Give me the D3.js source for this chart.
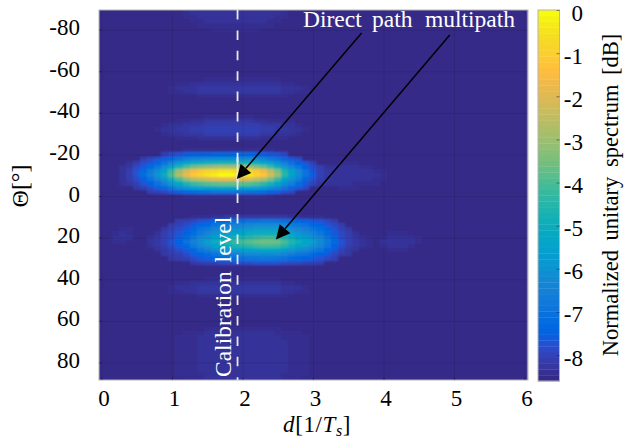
<!DOCTYPE html>
<html>
<head>
<meta charset="utf-8">
<script src="https://cdn.jsdelivr.net/npm/d3@7"></script>
<style>
  body { margin: 0; background: #fff; }
  text { font-family: "Liberation Serif", serif; fill: #000; }
</style>
</head>
<body>
<svg width="625" height="439"></svg>
<script>
// axis ticks
const dTicks = [0, 1, 2, 3, 4, 5, 6];
const thetaTicks = [-80, -60, -40, -20, 0, 20, 40, 60, 80];
const dbTicks = [0, -1, -2, -3, -4, -5, -6, -7, -8];

// cell axes, d step 0.1 and theta step 2 deg
const dCells = d3.range(61).map(i => i / 10);
const thetaCells = d3.range(91).map(i => -90 + 2 * i);
const floorDb = -8.5;

// main lobe (direct path), first column is d=0.3
const mainThetas = [-22, -20, -18, -16, -14, -12, -10, -8, -6, -4, -2, 0];
const mainLobe = [
  [-8.5,-8.5,-8.5,-8.5,-8.5,-8.5,-8.5,-8.5,-8.5,-8.4,-8.4,-8.4,-8.4,-8.4,-8.4,-8.4,-8.4,-8.4,-8.4,-8.4,-8.4,-8.4,-8.5,-8.5,-8.5,-8.5,-8.5,-8.5,-8.5,-8.5,-8.5],
  [-8.5,-8.5,-8.5,-8.5,-8.5,-8.5,-8.0,-7.8,-7.7,-7.5,-7.4,-7.4,-7.4,-7.3,-7.3,-7.3,-7.3,-7.3,-7.3,-7.4,-7.5,-7.6,-7.7,-7.9,-8.5,-8.5,-8.5,-8.5,-8.5,-8.5,-8.5],
  [-8.5,-8.5,-8.5,-8.1,-7.9,-7.7,-7.5,-7.2,-6.9,-6.6,-6.4,-6.3,-6.2,-6.1,-6.1,-6.1,-6.1,-6.2,-6.2,-6.3,-6.4,-6.7,-7.0,-7.3,-7.6,-7.8,-8.5,-8.5,-8.5,-8.5,-8.5],
  [-8.5,-8.3,-8.1,-7.8,-7.6,-7.3,-6.9,-6.4,-5.8,-5.4,-5.1,-4.9,-4.8,-4.7,-4.6,-4.6,-4.6,-4.7,-4.7,-4.9,-5.2,-5.6,-6.0,-6.6,-7.0,-7.4,-7.7,-8.0,-8.5,-8.5,-8.5],
  [-8.3,-8.2,-7.9,-7.6,-7.2,-6.8,-6.2,-5.4,-4.6,-3.9,-3.5,-3.3,-3.1,-2.9,-2.8,-2.8,-2.8,-2.9,-3.0,-3.3,-3.6,-4.2,-4.9,-5.7,-6.4,-6.9,-7.4,-7.8,-8.1,-8.3,-8.3],
  [-8.3,-8.1,-7.7,-7.2,-6.7,-6.1,-5.3,-4.2,-3.0,-2.1,-1.5,-1.2,-0.9,-0.7,-0.5,-0.5,-0.6,-0.7,-0.8,-1.2,-1.6,-2.5,-3.4,-4.6,-5.5,-6.2,-7.0,-7.6,-8.0,-8.2,-8.3],
  [-8.3,-8.1,-7.7,-7.1,-6.6,-5.9,-5.1,-3.9,-2.7,-1.7,-1.1,-0.7,-0.4,-0.2,0,0,-0.1,-0.2,-0.3,-0.7,-1.2,-2.1,-3.1,-4.4,-5.3,-6.1,-6.9,-7.5,-8.0,-8.2,-8.3],
  [-8.3,-8.1,-7.8,-7.4,-7.0,-6.4,-5.8,-4.8,-3.9,-3.1,-2.6,-2.3,-2.0,-1.8,-1.7,-1.7,-1.7,-1.9,-1.9,-2.3,-2.7,-3.4,-4.2,-5.2,-5.9,-6.6,-7.2,-7.7,-8.1,-8.2,-8.3],
  [-8.3,-8.2,-8.0,-7.7,-7.4,-7.0,-6.5,-5.8,-5.2,-4.6,-4.2,-4.0,-3.8,-3.7,-3.6,-3.6,-3.6,-3.7,-3.8,-4.0,-4.3,-4.8,-5.4,-6.1,-6.6,-7.1,-7.6,-7.9,-8.2,-8.3,-8.3],
  [-8.5,-8.5,-8.2,-8.0,-7.8,-7.5,-7.2,-6.8,-6.3,-5.9,-5.7,-5.6,-5.5,-5.4,-5.3,-5.3,-5.3,-5.4,-5.4,-5.6,-5.8,-6.1,-6.5,-6.9,-7.3,-7.6,-7.9,-8.5,-8.5,-8.5,-8.5],
  [-8.5,-8.5,-8.5,-8.5,-8.1,-8.0,-7.9,-7.7,-7.5,-7.3,-7.2,-7.1,-7.1,-7.0,-7.0,-7.0,-7.0,-7.0,-7.1,-7.1,-7.2,-7.4,-7.5,-7.8,-7.9,-8.5,-8.5,-8.5,-8.5,-8.5,-8.5],
  [-8.5,-8.5,-8.5,-8.5,-8.5,-8.5,-8.5,-8.5,-8.5,-8.3,-8.3,-8.3,-8.3,-8.3,-8.3,-8.3,-8.3,-8.3,-8.3,-8.3,-8.3,-8.4,-8.5,-8.5,-8.5,-8.5,-8.5,-8.5,-8.5,-8.5,-8.5]
];

// pale shoulder right of the main lobe, first column d=3.4
const shoulderThetas = [-16, -14, -12, -10, -8, -6, -4];
const shoulder = [
  [-8.4,-8.4,-8.4,-8.5,-8.5,-8.5,-8.5],
  [-8.3,-8.3,-8.3,-8.4,-8.4,-8.5,-8.5],
  [-8.3,-8.3,-8.3,-8.3,-8.3,-8.4,-8.4],
  [-8.3,-8.3,-8.3,-8.3,-8.3,-8.3,-8.4],
  [-8.3,-8.3,-8.3,-8.3,-8.3,-8.4,-8.4],
  [-8.3,-8.3,-8.4,-8.4,-8.4,-8.4,-8.5],
  [-8.4,-8.4,-8.4,-8.5,-8.5,-8.5,-8.5]
];

// multipath lobe, first column d=0.7
const multiThetas = [10, 12, 14, 16, 18, 20, 22, 24, 26, 28, 30, 32];
const multiLobe = [
  [-8.5,-8.5,-8.5,-8.5,-8.5,-8.5,-8.4,-8.4,-8.4,-8.3,-8.3,-8.2,-8.2,-8.2,-8.2,-8.2,-8.2,-8.2,-8.2,-8.2,-8.3,-8.3,-8.4,-8.4,-8.4,-8.5,-8.5,-8.5,-8.5,-8.5,-8.5,-8.5],
  [-8.5,-8.5,-8.5,-8.5,-8.1,-8.0,-7.9,-7.7,-7.6,-7.4,-7.3,-7.2,-7.1,-7.1,-7.0,-7.0,-6.9,-6.9,-7.0,-7.1,-7.2,-7.4,-7.4,-7.6,-7.7,-7.9,-8.1,-8.5,-8.5,-8.5,-8.5,-8.5],
  [-8.5,-8.5,-8.5,-8.1,-8.0,-7.8,-7.6,-7.3,-7.2,-6.9,-6.8,-6.7,-6.5,-6.4,-6.3,-6.2,-6.2,-6.2,-6.2,-6.4,-6.7,-6.8,-7.0,-7.2,-7.4,-7.7,-7.9,-8.1,-8.5,-8.5,-8.5,-8.5],
  [-8.5,-8.5,-8.2,-8.0,-7.8,-7.6,-7.3,-7.0,-6.8,-6.5,-6.3,-6.2,-6.0,-5.9,-5.8,-5.6,-5.6,-5.6,-5.6,-5.9,-6.2,-6.4,-6.6,-6.8,-7.1,-7.4,-7.7,-8.0,-8.2,-8.5,-8.5,-8.5],
  [-8.5,-8.3,-8.1,-7.9,-7.7,-7.4,-7.1,-6.7,-6.4,-6.0,-5.8,-5.6,-5.4,-5.3,-5.1,-5.0,-4.9,-4.9,-5.0,-5.3,-5.6,-5.9,-6.1,-6.4,-6.8,-7.2,-7.6,-7.9,-8.1,-8.3,-8.5,-8.5],
  [-8.3,-8.2,-8.0,-7.8,-7.5,-7.1,-6.7,-6.2,-5.9,-5.4,-5.2,-4.9,-4.6,-4.5,-4.3,-4.1,-4.0,-4.0,-4.1,-4.5,-4.9,-5.3,-5.5,-5.9,-6.3,-6.9,-7.3,-7.8,-8.0,-8.2,-8.3,-8.4],
  [-8.3,-8.2,-8.0,-7.7,-7.4,-7.0,-6.5,-6.0,-5.6,-5.1,-4.8,-4.5,-4.2,-4.0,-3.8,-3.6,-3.5,-3.5,-3.6,-4.0,-4.5,-4.9,-5.2,-5.6,-6.1,-6.7,-7.2,-7.7,-8.0,-8.2,-8.3,-8.4],
  [-8.3,-8.2,-8.1,-7.8,-7.5,-7.2,-6.7,-6.3,-5.9,-5.5,-5.2,-5.0,-4.7,-4.5,-4.4,-4.2,-4.1,-4.1,-4.2,-4.5,-5.0,-5.3,-5.6,-5.9,-6.4,-6.9,-7.4,-7.8,-8.1,-8.2,-8.3,-8.4],
  [-8.5,-8.3,-8.2,-8.0,-7.8,-7.5,-7.2,-6.8,-6.6,-6.2,-6.0,-5.8,-5.6,-5.5,-5.4,-5.3,-5.2,-5.2,-5.3,-5.5,-5.8,-6.1,-6.3,-6.6,-6.9,-7.3,-7.6,-8.0,-8.2,-8.3,-8.5,-8.5],
  [-8.5,-8.5,-8.2,-8.1,-8.0,-7.8,-7.5,-7.3,-7.1,-6.9,-6.7,-6.6,-6.5,-6.4,-6.3,-6.2,-6.1,-6.1,-6.2,-6.4,-6.6,-6.8,-6.9,-7.1,-7.4,-7.6,-7.9,-8.1,-8.2,-8.5,-8.5,-8.5],
  [-8.5,-8.5,-8.5,-8.2,-8.1,-8.0,-7.8,-7.6,-7.5,-7.3,-7.3,-7.2,-7.1,-7.0,-6.9,-6.9,-6.8,-6.8,-6.9,-7.0,-7.2,-7.3,-7.4,-7.5,-7.7,-7.9,-8.0,-8.5,-8.5,-8.5,-8.5,-8.5],
  [-8.5,-8.5,-8.5,-8.5,-8.5,-8.5,-8.2,-8.1,-8.0,-8.0,-7.9,-7.9,-7.8,-7.8,-7.8,-7.7,-7.7,-7.7,-7.7,-7.8,-7.9,-7.9,-8.0,-8.0,-8.1,-8.5,-8.5,-8.5,-8.5,-8.5,-8.5,-8.5]
];

// side lobe above the main one, first column d=0.8
const sideAThetas = [-38, -36, -34, -32, -30, -28];
const sideA = [
  [-8.5,-8.5,-8.5,-8.5,-8.5,-8.5,-8.5,-8.4,-8.4,-8.4,-8.4,-8.4,-8.4,-8.4,-8.5,-8.5,-8.5,-8.5,-8.5,-8.5,-8.5,-8.5],
  [-8.5,-8.5,-8.5,-8.4,-8.4,-8.3,-8.3,-8.2,-8.2,-8.2,-8.2,-8.2,-8.2,-8.2,-8.3,-8.3,-8.4,-8.4,-8.4,-8.4,-8.5,-8.5],
  [-8.5,-8.4,-8.3,-8.3,-8.2,-8.2,-8.2,-8.1,-8.1,-8.1,-8.1,-8.1,-8.1,-8.1,-8.1,-8.2,-8.2,-8.2,-8.3,-8.3,-8.4,-8.5],
  [-8.4,-8.3,-8.3,-8.2,-8.2,-8.1,-8.1,-8.0,-8.0,-8.0,-8.0,-8.0,-8.0,-8.0,-8.0,-8.1,-8.1,-8.2,-8.2,-8.3,-8.3,-8.4],
  [-8.5,-8.4,-8.3,-8.3,-8.2,-8.2,-8.2,-8.1,-8.1,-8.1,-8.1,-8.1,-8.1,-8.1,-8.1,-8.2,-8.2,-8.3,-8.3,-8.3,-8.4,-8.5],
  [-8.5,-8.5,-8.5,-8.4,-8.4,-8.4,-8.3,-8.3,-8.3,-8.3,-8.3,-8.3,-8.3,-8.3,-8.3,-8.4,-8.4,-8.4,-8.4,-8.5,-8.5,-8.5]
];

// side lobe near -50 deg, first column d=1.0
const sideBThetas = [-56, -54, -52, -50, -48];
const sideB = [
  [-8.5,-8.5,-8.5,-8.5,-8.5,-8.4,-8.4,-8.4,-8.4,-8.4,-8.4,-8.4,-8.4,-8.4,-8.4,-8.4,-8.5,-8.5,-8.5,-8.5],
  [-8.5,-8.4,-8.4,-8.3,-8.3,-8.3,-8.3,-8.3,-8.3,-8.3,-8.3,-8.3,-8.3,-8.3,-8.3,-8.3,-8.4,-8.4,-8.5,-8.5],
  [-8.4,-8.3,-8.3,-8.3,-8.2,-8.2,-8.2,-8.2,-8.2,-8.2,-8.2,-8.2,-8.2,-8.2,-8.2,-8.2,-8.3,-8.3,-8.3,-8.4],
  [-8.4,-8.4,-8.3,-8.3,-8.2,-8.2,-8.2,-8.2,-8.2,-8.2,-8.2,-8.2,-8.2,-8.2,-8.2,-8.2,-8.3,-8.3,-8.4,-8.4],
  [-8.5,-8.5,-8.5,-8.5,-8.4,-8.4,-8.4,-8.4,-8.4,-8.4,-8.4,-8.4,-8.4,-8.4,-8.4,-8.4,-8.4,-8.5,-8.5,-8.5]
];

// top lobe, first column d=1.2
const topThetas = [-90, -88, -86, -84, -82, -80];
const topLobe = [
  [-8.3,-8.3,-8.3,-8.3,-8.3,-8.3,-8.3,-8.3,-8.3,-8.3,-8.3,-8.3,-8.3,-8.3,-8.3],
  [-8.4,-8.3,-8.3,-8.3,-8.3,-8.3,-8.3,-8.3,-8.3,-8.3,-8.3,-8.3,-8.3,-8.3,-8.4],
  [-8.4,-8.4,-8.3,-8.3,-8.3,-8.3,-8.3,-8.3,-8.3,-8.3,-8.3,-8.3,-8.3,-8.4,-8.4],
  [-8.5,-8.4,-8.4,-8.3,-8.3,-8.3,-8.3,-8.3,-8.3,-8.3,-8.3,-8.3,-8.4,-8.4,-8.5],
  [-8.5,-8.5,-8.4,-8.4,-8.4,-8.4,-8.4,-8.4,-8.4,-8.4,-8.4,-8.4,-8.4,-8.5,-8.5],
  [-8.5,-8.5,-8.5,-8.5,-8.4,-8.4,-8.4,-8.4,-8.4,-8.4,-8.4,-8.5,-8.5,-8.5,-8.5]
];

// side lobe below the multipath one, first column d=1.0
const sideCThetas = [40, 42, 44, 46, 48];
const sideC = [
  [-8.5,-8.5,-8.5,-8.5,-8.5,-8.4,-8.4,-8.4,-8.4,-8.4,-8.4,-8.4,-8.4,-8.4,-8.4,-8.4,-8.5,-8.5,-8.5,-8.5],
  [-8.5,-8.4,-8.4,-8.3,-8.3,-8.3,-8.3,-8.3,-8.3,-8.3,-8.3,-8.3,-8.3,-8.3,-8.3,-8.3,-8.4,-8.4,-8.5,-8.5],
  [-8.4,-8.3,-8.3,-8.3,-8.2,-8.2,-8.2,-8.2,-8.2,-8.2,-8.2,-8.2,-8.2,-8.2,-8.2,-8.2,-8.3,-8.3,-8.3,-8.4],
  [-8.4,-8.4,-8.3,-8.3,-8.2,-8.2,-8.2,-8.2,-8.2,-8.2,-8.2,-8.2,-8.2,-8.2,-8.2,-8.2,-8.3,-8.3,-8.4,-8.4],
  [-8.5,-8.5,-8.5,-8.5,-8.4,-8.4,-8.4,-8.4,-8.4,-8.4,-8.4,-8.4,-8.4,-8.4,-8.4,-8.4,-8.4,-8.5,-8.5,-8.5]
];

// bottom lobe, first column d=1.1
const bottomThetas = [64, 66, 68, 70, 72, 74, 76, 78, 80, 82, 84, 86, 88, 90];
const bottomLobe = [
  [-8.5,-8.5,-8.5,-8.5,-8.4,-8.4,-8.4,-8.4,-8.4,-8.4,-8.4,-8.4,-8.4,-8.4,-8.4,-8.5,-8.5,-8.5,-8.5],
  [-8.5,-8.4,-8.4,-8.4,-8.3,-8.3,-8.3,-8.3,-8.3,-8.3,-8.3,-8.3,-8.3,-8.3,-8.4,-8.4,-8.4,-8.4,-8.5],
  [-8.4,-8.4,-8.4,-8.3,-8.3,-8.3,-8.3,-8.3,-8.3,-8.3,-8.3,-8.3,-8.3,-8.3,-8.3,-8.4,-8.4,-8.4,-8.4],
  [-8.4,-8.4,-8.4,-8.3,-8.3,-8.3,-8.3,-8.3,-8.3,-8.3,-8.3,-8.3,-8.3,-8.3,-8.3,-8.3,-8.4,-8.4,-8.4],
  [-8.4,-8.4,-8.4,-8.3,-8.3,-8.3,-8.3,-8.3,-8.3,-8.3,-8.3,-8.3,-8.3,-8.3,-8.3,-8.3,-8.4,-8.4,-8.4],
  [-8.4,-8.4,-8.4,-8.3,-8.3,-8.3,-8.3,-8.3,-8.3,-8.3,-8.3,-8.3,-8.3,-8.3,-8.3,-8.3,-8.4,-8.4,-8.4],
  [-8.4,-8.4,-8.4,-8.3,-8.3,-8.3,-8.3,-8.3,-8.3,-8.3,-8.3,-8.3,-8.3,-8.3,-8.3,-8.3,-8.4,-8.4,-8.4],
  [-8.4,-8.4,-8.4,-8.3,-8.3,-8.3,-8.3,-8.3,-8.3,-8.3,-8.3,-8.3,-8.3,-8.3,-8.3,-8.3,-8.4,-8.4,-8.4],
  [-8.4,-8.4,-8.4,-8.3,-8.3,-8.3,-8.3,-8.3,-8.3,-8.3,-8.3,-8.3,-8.3,-8.3,-8.3,-8.3,-8.4,-8.4,-8.4],
  [-8.4,-8.4,-8.4,-8.3,-8.3,-8.3,-8.3,-8.3,-8.3,-8.3,-8.3,-8.3,-8.3,-8.3,-8.3,-8.3,-8.4,-8.4,-8.4],
  [-8.4,-8.4,-8.4,-8.3,-8.3,-8.3,-8.3,-8.3,-8.3,-8.3,-8.3,-8.3,-8.3,-8.3,-8.3,-8.3,-8.4,-8.4,-8.4],
  [-8.4,-8.4,-8.4,-8.4,-8.3,-8.3,-8.3,-8.3,-8.3,-8.3,-8.3,-8.3,-8.3,-8.3,-8.3,-8.4,-8.4,-8.4,-8.4],
  [-8.5,-8.4,-8.4,-8.4,-8.3,-8.3,-8.3,-8.3,-8.3,-8.3,-8.3,-8.3,-8.3,-8.3,-8.3,-8.4,-8.4,-8.4,-8.5],
  [-8.5,-8.4,-8.4,-8.4,-8.3,-8.3,-8.3,-8.3,-8.3,-8.3,-8.3,-8.3,-8.3,-8.3,-8.3,-8.4,-8.4,-8.4,-8.5]
];

// two small blobs left and right of the multipath lobe
const leftBlobThetas = [16, 18, 20, 22];
const leftBlob = [
  [-8.5,-8.4,-8.4],
  [-8.4,-8.3,-8.4],
  [-8.3,-8.3,-8.3],
  [-8.4,-8.4,-8.5]
];
const rightBlobThetas = [18, 20, 22, 24, 26];
const rightBlob = [
  [-8.5,-8.4,-8.4,-8.4,-8.5,-8.5],
  [-8.4,-8.3,-8.3,-8.3,-8.3,-8.4],
  [-8.3,-8.3,-8.3,-8.3,-8.3,-8.4],
  [-8.4,-8.3,-8.3,-8.3,-8.4,-8.5],
  [-8.5,-8.4,-8.4,-8.4,-8.5,-8.5]
];

// parula, 64 steps
const parula = [
  [.2081,.1663,.5292],[.2116,.1898,.5777],[.2123,.2138,.6270],[.2081,.2386,.6771],
  [.1959,.2645,.7279],[.1707,.2919,.7792],[.1253,.3242,.8303],[.0591,.3598,.8683],
  [.0117,.3875,.8820],[.0060,.4086,.8828],[.0165,.4266,.8786],[.0329,.4430,.8720],
  [.0498,.4586,.8641],[.0629,.4737,.8554],[.0723,.4887,.8467],[.0779,.5040,.8384],
  [.0793,.5200,.8312],[.0749,.5375,.8263],[.0641,.5570,.8240],[.0488,.5772,.8228],
  [.0343,.5966,.8199],[.0265,.6137,.8135],[.0239,.6287,.8038],[.0231,.6418,.7913],
  [.0228,.6535,.7768],[.0267,.6642,.7607],[.0384,.6743,.7436],[.0590,.6838,.7254],
  [.0843,.6928,.7062],[.1133,.7015,.6859],[.1453,.7098,.6646],[.1801,.7177,.6424],
  [.2178,.7250,.6193],[.2586,.7317,.5954],[.3022,.7376,.5712],[.3482,.7424,.5473],
  [.3953,.7459,.5244],[.4420,.7481,.5033],[.4871,.7491,.4840],[.5300,.7491,.4661],
  [.5709,.7485,.4494],[.6099,.7473,.4337],[.6473,.7456,.4188],[.6834,.7435,.4044],
  [.7184,.7411,.3905],[.7525,.7384,.3768],[.7858,.7356,.3633],[.8185,.7327,.3498],
  [.8507,.7299,.3360],[.8824,.7274,.3217],[.9139,.7258,.3063],[.9450,.7261,.2886],
  [.9739,.7314,.2666],[.9938,.7455,.2403],[.9990,.7653,.2164],[.9955,.7861,.1967],
  [.9880,.8066,.1794],[.9789,.8271,.1633],[.9697,.8481,.1475],[.9626,.8705,.1309],
  [.9589,.8949,.1132],[.9598,.9218,.0948],[.9661,.9514,.0755],[.9763,.9831,.0538]
].map(c => d3.rgb(c[0] * 255, c[1] * 255, c[2] * 255).formatHex());

// annotations, in data units
const calibrationD = 1.93;
const arrows = [
  { from: [3.69, -78.4], to: [1.92, -8.2] },
  { from: [4.94, -77.4], to: [2.475, 20.9] }
];

const svg = d3.select('svg');

const plotLeft = 99, plotRight = 528, plotTop = 10, plotBottom = 380;
const x = d3.scaleLinear().domain([-0.035, 6.05]).range([plotLeft, plotRight]);
const y = d3.scaleLinear().domain([-89.45, 88.45]).range([plotTop, plotBottom]);
const color = d3.scaleLinear()
  .domain(parula.map((c, i) => floorDb - floorDb * i / 63))
  .range(parula).clamp(true);

// put the lobes on the full grid
const spectrum = thetaCells.map(() => dCells.map(() => floorDb));
function place(thetas, rows, firstCol) {
  thetas.forEach((t, r) => {
    const i = thetaCells.indexOf(t);
    rows[r].forEach((v, c) => { spectrum[i][firstCol + c] = v; });
  });
}
place(mainThetas, mainLobe, 3);
place(shoulderThetas, shoulder, 34);
place(multiThetas, multiLobe, 7);
place(sideAThetas, sideA, 8);
place(sideBThetas, sideB, 10);
place(topThetas, topLobe, 12);
place(sideCThetas, sideC, 10);
place(bottomThetas, bottomLobe, 11);
place(leftBlobThetas, leftBlob, 2);
place(rightBlobThetas, rightBlob, 40);

const cells = [];
thetaCells.forEach((t, i) => dCells.forEach((d, j) => {
  cells.push({ d: d, t: t, v: spectrum[i][j] });
}));

const defs = svg.append('defs');
defs.append('clipPath').attr('id', 'plot').append('rect')
  .attr('x', plotLeft).attr('y', plotTop).attr('width', plotRight - plotLeft).attr('height', plotBottom - plotTop);
const soft = defs.append('filter').attr('id', 'soft')
  .attr('x', '-5%').attr('y', '-5%').attr('width', '110%').attr('height', '110%');
soft.append('feGaussianBlur').attr('stdDeviation', 0.8);

svg.append('g').attr('clip-path', 'url(#plot)')
  .append('g').attr('filter', 'url(#soft)')
  .selectAll('rect').data(cells).enter().append('rect')
  .attr('x', c => x(c.d - 0.05))
  .attr('y', c => y(c.t - 1))
  .attr('width', x(0.1) - x(0))
  .attr('height', y(2) - y(0))
  .attr('fill', c => color(c.v))
  .attr('shape-rendering', 'crispEdges');

// faint grid
const gridX = svg.append('g').attr('transform', `translate(0, ${plotBottom})`)
  .call(d3.axisBottom(x).tickValues(dTicks).tickSize(-(plotBottom - plotTop)).tickFormat(''));
const gridY = svg.append('g').attr('transform', `translate(${plotLeft}, 0)`)
  .call(d3.axisLeft(y).tickValues(thetaTicks).tickSize(-(plotRight - plotLeft)).tickFormat(''));
[gridX, gridY].forEach(g => {
  g.select('.domain').remove();
  g.selectAll('line').attr('stroke', '#000').attr('stroke-opacity', 0.09);
});

// frame and axes
svg.append('rect').attr('x', plotLeft).attr('y', plotTop)
  .attr('width', plotRight - plotLeft).attr('height', plotBottom - plotTop)
  .attr('fill', 'none').attr('stroke', '#b4b4b4').attr('stroke-width', 1);

const xAxis = svg.append('g').attr('transform', `translate(0, ${plotBottom})`)
  .call(d3.axisBottom(x).tickValues(dTicks).tickSizeInner(-3).tickSizeOuter(0).tickPadding(10).tickFormat(String));
const yAxis = svg.append('g').attr('transform', `translate(${plotLeft}, 0)`)
  .call(d3.axisLeft(y).tickValues(thetaTicks).tickSizeInner(-3).tickSizeOuter(0).tickPadding(19).tickFormat(String));
[xAxis, yAxis].forEach(g => {
  g.select('.domain').remove();
  g.selectAll('line').attr('stroke', '#222').attr('stroke-opacity', 0.5);
  g.selectAll('text').style('font-family', '"Liberation Serif", serif').style('font-size', '23px').attr('fill', '#000');
});
xAxis.selectAll('text').attr('dx', 2);
yAxis.selectAll('text').attr('dy', 5);

svg.append('line')
  .attr('x1', x(calibrationD)).attr('x2', x(calibrationD))
  .attr('y1', plotTop).attr('y2', plotBottom)
  .attr('stroke', '#e8e8e8').attr('stroke-width', 1.8)
  .attr('stroke-dasharray', '9.5 10.9');
// the dash over the main lobe runs on longer
svg.append('line')
  .attr('x1', x(calibrationD)).attr('x2', x(calibrationD))
  .attr('y1', y(-18.7)).attr('y2', y(-3))
  .attr('stroke', '#e8e8e8').attr('stroke-width', 1.8);

arrows.forEach(a => {
  const x0 = x(a.from[0]), y0 = y(a.from[1]), x1 = x(a.to[0]), y1 = y(a.to[1]);
  const ang = Math.atan2(y1 - y0, x1 - x0);
  const bx = x1 - 14 * Math.cos(ang), by = y1 - 14 * Math.sin(ang);
  svg.append('line').attr('x1', x0).attr('y1', y0).attr('x2', bx).attr('y2', by)
    .attr('stroke', '#000').attr('stroke-width', 1.5);
  svg.append('polygon')
    .attr('points', [
      [x1, y1],
      [bx - 7 * Math.sin(ang), by + 7 * Math.cos(ang)],
      [bx + 7 * Math.sin(ang), by - 7 * Math.cos(ang)]
    ].join(' '))
    .attr('fill', '#000');
});

// white labels on the plot
svg.append('text').attr('x', 303).attr('y', 27)
  .style('fill', '#fff').style('font-size', '23.5px').text('Direct');
svg.append('text').attr('x', 372).attr('y', 27)
  .style('fill', '#fff').style('font-size', '23.5px').text('path');
svg.append('text').attr('x', 425).attr('y', 27)
  .style('fill', '#fff').style('font-size', '23.5px').text('multipath');
svg.append('text').attr('transform', 'translate(231, 377) rotate(-90)')
  .style('fill', '#fff').style('font-size', '23.5px').style('word-spacing', '3px').text('Calibration level');

// axis titles
const xTitle = svg.append('text').attr('x', 317).attr('y', 432)
  .attr('text-anchor', 'middle').style('font-size', '23px').style('letter-spacing', '0.6px');
xTitle.append('tspan').style('font-style', 'italic').text('d');
xTitle.append('tspan').text('[1/');
xTitle.append('tspan').style('font-style', 'italic').text('T');
xTitle.append('tspan').style('font-style', 'italic').style('font-size', '16px').attr('dy', 4).text('s');
xTitle.append('tspan').attr('dy', -4).text(']');

svg.append('text').attr('transform', 'translate(28, 186) rotate(-90)')
  .attr('text-anchor', 'middle').style('font-size', '24px').text('Θ[°]');

// colorbar
const barLeft = 538, barRight = 559.5, barBottom = 381;
const barY = d3.scaleLinear().domain([0, -8.6]).range([plotTop, barBottom]);
const levels = d3.range(64);
const levelH = (barBottom - plotTop) / 64;
svg.append('g').selectAll('rect').data(levels).enter().append('rect')
  .attr('x', barLeft)
  .attr('y', i => barBottom - (i + 1) * levelH)
  .attr('width', barRight - barLeft)
  .attr('height', levelH + 0.3)
  .attr('fill', i => parula[i]);
svg.append('rect').attr('x', barLeft).attr('y', plotTop)
  .attr('width', barRight - barLeft).attr('height', barBottom - plotTop)
  .attr('fill', 'none').attr('stroke', '#b4b4b4');
const barAxis = svg.append('g').attr('transform', `translate(${barRight}, 0)`)
  .call(d3.axisRight(barY).tickValues(dbTicks).tickSizeInner(-3).tickSizeOuter(0).tickFormat(String));
barAxis.select('.domain').remove();
barAxis.selectAll('line').attr('stroke', '#222').attr('stroke-opacity', 0.5);
barAxis.selectAll('text').attr('x', 23.5).attr('dy', 10).attr('text-anchor', 'end')
  .style('font-family', '"Liberation Serif", serif').style('font-size', '23px').attr('fill', '#000');

svg.append('text').attr('transform', 'translate(618, 195) rotate(-90)')
  .attr('text-anchor', 'middle').style('font-size', '22.5px').style('word-spacing', '4px')
  .text('Normalized unitary spectrum [dB]');
</script>
</body>
</html>
